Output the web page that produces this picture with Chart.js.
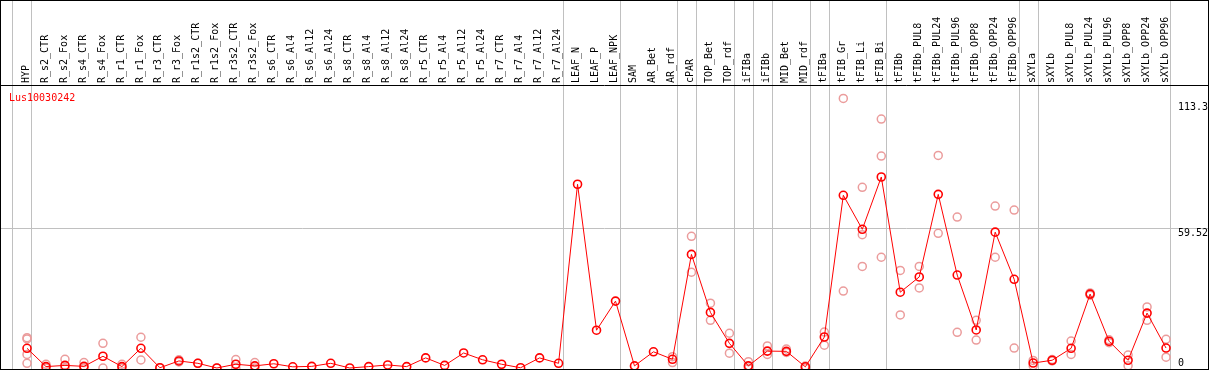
<!DOCTYPE html>
<html>
<head>
<meta charset="utf-8">
<script src="https://cdn.jsdelivr.net/npm/chart.js@4"></script>
<style>
  body { margin: 0; background: #fff; }
  #wrap { width: 1209px; height: 370px; }
</style>
</head>
<body>
<div id="wrap"><canvas id="expr" width="1209" height="370"></canvas></div>
<script>
const geneName = "Lus10030242";

const samples = ["HYP", "R_s2_CTR", "R_s2_Fox", "R_s4_CTR", "R_s4_Fox", "R_r1_CTR", "R_r1_Fox",
  "R_r3_CTR", "R_r3_Fox", "R_r1s2_CTR", "R_r1s2_Fox", "R_r3s2_CTR", "R_r3s2_Fox",
  "R_s6_CTR", "R_s6_Al4", "R_s6_Al12", "R_s6_Al24", "R_s8_CTR", "R_s8_Al4", "R_s8_Al12", "R_s8_Al24",
  "R_r5_CTR", "R_r5_Al4", "R_r5_Al12", "R_r5_Al24", "R_r7_CTR", "R_r7_Al4", "R_r7_Al12", "R_r7_Al24",
  "LEAF_N", "LEAF_P", "LEAF_NPK", "SAM", "AR_Bet", "AR_rdf", "cPAR", "TOP_Bet", "TOP_rdf",
  "iFIBa", "iFIBb", "MID_Bet", "MID_rdf", "tFIBa", "tFIB_Gr", "tFIB_Li", "tFIB_Bi", "tFIBb",
  "tFIBb_PUL8", "tFIBb_PUL24", "tFIBb_PUL96", "tFIBb_OPP8", "tFIBb_OPP24", "tFIBb_OPP96",
  "sXYLa", "sXYLb", "sXYLb_PUL8", "sXYLb_PUL24", "sXYLb_PUL96", "sXYLb_OPP8", "sXYLb_OPP24", "sXYLb_OPP96"];

// mean expression per sample
const meanExpr = [8.4, 0.6, 1.1, 0.7, 5.0, 0.6, 8.4, 0.1, 3.0, 2.0, 0.0, 1.6, 0.9,
  1.8, 0.5, 0.7, 2.0, 0.0, 0.6, 1.3, 0.6, 4.3, 1.1, 6.4, 3.5, 1.6, 0.1, 4.3, 2.0,
  78.3, 16.1, 28.5, 0.9, 6.9, 3.7, 48.4, 23.7, 10.5, 0.9, 7.2, 7.1, 0.5,
  13.2, 73.6, 59.1, 81.4, 32.3, 38.8, 74.0, 39.6, 16.2, 57.9, 37.8,
  2.1, 3.3, 8.4, 31.5, 11.4, 3.3, 23.4, 8.5];

// individual replicates per sample
const replicates = [[12.9, 12.4, 5.8, 2.0], [1.6, 0], [3.7, 0], [2.3, 0], [10.5, 0], [1.6, 0], [13.1, 3.4],
  [0.1], [3.5, 2.6], [2.0], [0], [3.6, 0], [2.3, 0],
  [], [], [], [], [], [], [], [], [], [], [], [], [], [], [], [],
  [], [], [], [], [], [4.8, 2.3], [56.1, 40.8], [27.6, 20.3], [14.8, 6.3], [2.7, 0], [9.4, 5.8], [8.1, 6.6], [0.8, 0],
  [15.3, 9.7], [114.9, 32.8], [77.0, 56.8, 43.3], [106.1, 90.3, 47.2], [41.6, 22.6], [43.3, 34.1], [90.6, 57.4],
  [64.3, 15.2], [20.3, 11.9], [69.0, 47.2], [67.3, 8.5],
  [3.2, 1.0], [3.6, 3.0], [11.5, 5.8], [32.0, 31.0], [12.0, 10.8], [5.5, 1.0], [26.0, 20.3], [12.2, 4.6]];

// samples that close a tissue group (separator drawn just after them)
const groupEnds = [-1, 0, 28, 31, 34, 35, 37, 38, 39, 41, 42, 45, 52, 53, 60];

const yTicks = [0, 59.52, 113.3];
const yTickLabels = ["0", "59.52", "113.3"];

const monoFont = "DejaVu Sans Mono";

const meanPoints = meanExpr.map((v, i) => ({ x: i, y: v }));
const repPoints = [];
replicates.forEach((reps, i) => reps.forEach(v => repPoints.push({ x: i, y: v })));

const frame = {
  id: "frame",
  beforeDatasetsDraw(chart) {
    const { ctx, chartArea: a, scales: { x, y } } = chart;
    ctx.save();
    ctx.strokeStyle = "#c0c0c0";
    ctx.lineWidth = 1;
    groupEnds.forEach(g => {
      const px = Math.round(x.getPixelForValue(g + 0.23)) + 0.5;
      ctx.beginPath();
      ctx.moveTo(px, 0);
      ctx.lineTo(px, a.bottom);
      ctx.stroke();
    });
    const gy = Math.round(y.getPixelForValue(yTicks[1])) + 0.5;
    ctx.beginPath();
    ctx.moveTo(a.left, gy);
    ctx.lineTo(a.right, gy);
    ctx.stroke();
    ctx.restore();
  },
  afterDraw(chart) {
    const { ctx, chartArea: a, scales: { y } } = chart;
    ctx.save();
    ctx.strokeStyle = "#000";
    ctx.lineWidth = 1;
    ctx.strokeRect(0.5, 0.5, a.right, a.bottom);
    ctx.beginPath();
    ctx.moveTo(0, a.top + 0.5);
    ctx.lineTo(a.right + 1, a.top + 0.5);
    ctx.stroke();

    ctx.font = "10px '" + monoFont + "'";
    ctx.textAlign = "left";
    ctx.textBaseline = "alphabetic";
    ctx.fillStyle = "#000";
    yTicks.forEach((t, i) => {
      const py = y.getPixelForValue(t);
      const by = t === 0 ? py - 2 : py + 7.5;
      ctx.fillText(yTickLabels[i], 1178, by);
    });

    ctx.fillStyle = "#ff0000";
    ctx.fillText(geneName, 9, a.top + 16);
    ctx.restore();
  }
};

new Chart(document.getElementById("expr"), {
  type: "line",
  data: {
    datasets: [
      {
        data: meanPoints,
        borderColor: "#ff0000",
        borderWidth: 1,
        pointRadius: 4,
        pointBorderWidth: 1.6,
        pointBorderColor: "#ff0000",
        pointBackgroundColor: "rgba(0,0,0,0)",
        tension: 0,
        order: 1
      },
      {
        data: repPoints,
        showLine: false,
        pointRadius: 4,
        pointBorderWidth: 1.5,
        pointBorderColor: "#eb9c9c",
        pointBackgroundColor: "rgba(0,0,0,0)",
        order: 2
      }
    ]
  },
  options: {
    responsive: false,
    animation: false,
    devicePixelRatio: 1,
    layout: { autoPadding: false, padding: { left: 1, right: 1, top: 0, bottom: 1 } },
    plugins: { legend: { display: false }, tooltip: { enabled: false } },
    scales: {
      x: {
        type: "linear",
        position: "top",
        min: -1.37,
        max: 62.21,
        afterBuildTicks: s => { s.ticks = samples.map((_, i) => ({ value: i })); },
        afterFit: s => { s.height = 85; },
        grid: { display: false, drawTicks: false },
        border: { display: false },
        ticks: {
          autoSkip: false,
          minRotation: 90,
          maxRotation: 90,
          padding: 2,
          labelOffset: 11,
          color: "#000",
          font: { family: monoFont, size: 10 },
          callback: v => samples[v]
        }
      },
      y: {
        display: false,
        min: -0.43,
        max: 120.6
      }
    }
  },
  plugins: [frame]
});
</script>
</body>
</html>
